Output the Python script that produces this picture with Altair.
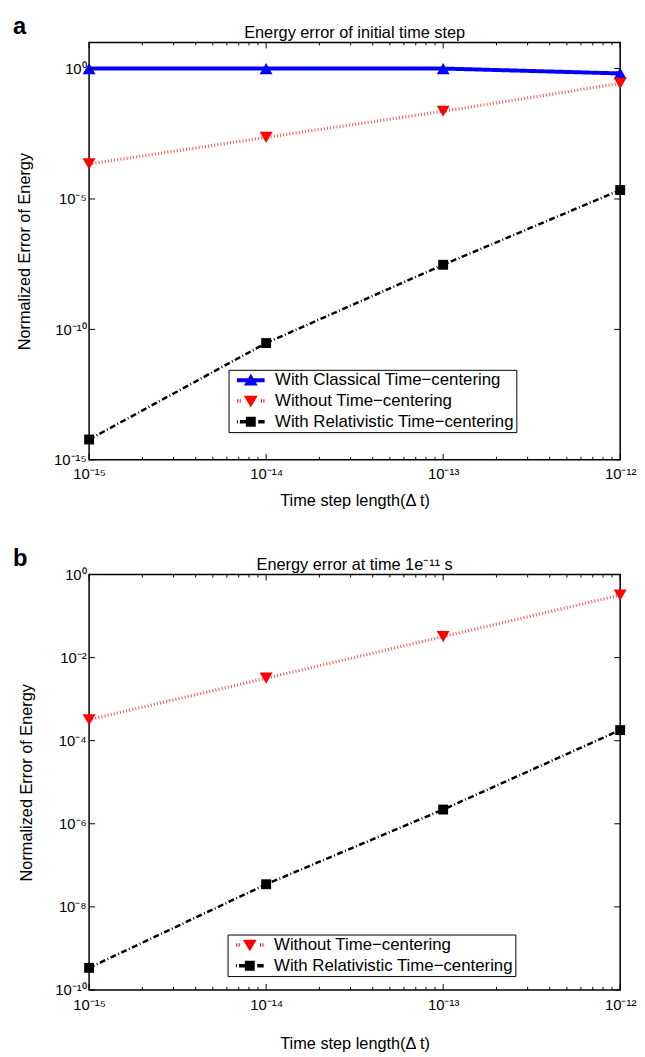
import math
import altair as alt
import pandas as pd

FONT = "Liberation Sans"

# ---------------- data ----------------
dt = [1e-15, 1e-14, 1e-13, 1e-12]

S_CLASSIC = "With Classical Time−centering"
S_WITHOUT = "Without Time−centering"
S_REL = "With Relativistic Time−centering"
ALL_SERIES = [S_CLASSIC, S_WITHOUT, S_REL]

a_classic = [1.0, 1.0, 1.0, 0.65]
a_without = [2.2e-4, 2.3e-3, 2.3e-2, 0.27]
a_rel = [6e-15, 3e-11, 3e-8, 2.2e-5]

b_without = [3.2e-4, 3.2e-3, 3.2e-2, 0.32]
b_rel = [3.4e-10, 3.5e-8, 2.2e-6, 1.8e-4]

x_major = [1e-15, 1e-14, 1e-13, 1e-12]
x_major_labels = ["10⁻¹⁵", "10⁻¹⁴", "10⁻¹³", "10⁻¹²"]
x_minor = [m * 10.0 ** e for e in (-15, -14, -13) for m in range(2, 10)]

a_y_ticks = [1e0, 1e-5, 1e-10, 1e-15]
a_y_labels = ["10⁰", "10⁻⁵", "10⁻¹⁰", "10⁻¹⁵"]
b_y_ticks = [1e0, 1e-2, 1e-4, 1e-6, 1e-8, 1e-10]
b_y_labels = ["10⁰", "10⁻²", "10⁻⁴", "10⁻⁶", "10⁻⁸", "10⁻¹⁰"]

# ---------------- styles ----------------
STYLE = {
    S_CLASSIC: dict(marker="triangle-up", fill="#0000ff", line="#0000ff", width=4.0, dash=[1, 0], size=170,
                    legend_path="M-2.8,-0.4L2.8,-0.4L2.8,0.4L-2.8,0.4Z M0,-1.3L1.4,1.05L-1.4,1.05Z"),
    S_WITHOUT: dict(marker="triangle-down", fill="#ff0000", line="#ff5555", width=2.5, dash=[1, 2.2], size=170,
                    legend_path=("M-2.75,-0.35L-2.55,-0.35L-2.55,0.35L-2.75,0.35Z "
                                 "M-2.25,-0.35L-2.05,-0.35L-2.05,0.35L-2.25,0.35Z "
                                 "M2.05,-0.35L2.25,-0.35L2.25,0.35L2.05,0.35Z "
                                 "M2.55,-0.35L2.75,-0.35L2.75,0.35L2.55,0.35Z "
                                 "M-1.4,-1.05L1.4,-1.05L0,1.3Z")),
    S_REL: dict(marker="square", fill="#000000", line="#000000", width=3.5, dash=[6, 2.5, 1, 2.5], size=100,
                legend_path=("M-2.8,-0.3L-2.6,-0.3L-2.6,0.3L-2.8,0.3Z "
                             "M-2.2,-0.35L-0.9,-0.35L-0.9,0.35L-2.2,0.35Z "
                             "M-1,-1L1,-1L1,1L-1,1Z "
                             "M1.5,-0.35L2.8,-0.35L2.8,0.35L1.5,0.35Z")),
}


def label_expr(values, labels):
    expr = "''"
    for v, lab in reversed(list(zip(values, labels))):
        e = int(round(math.log10(v)))
        expr = f"round(log(datum.value)/LN10) == {e} ? '{lab}' : ({expr})"
    return expr


def make_legend(lx, ly, values):
    return alt.Legend(title=None, orient="none", legendX=lx, legendY=ly, values=values,
                      strokeColor="black", fillColor="white", padding=2, rowPadding=3,
                      symbolSize=100, symbolOffset=12, labelOffset=16, symbolStrokeWidth=0,
                      labelFontSize=17, labelFont=FONT, labelColor="black", labelLimit=400,
                      symbolOpacity=1)


def scale_of(key):
    return alt.Scale(domain=ALL_SERIES, range=[STYLE[s][key] for s in ALL_SERIES])


def panel(series_names, series_vals, y_domain, y_ticks, y_labels, title, letter,
          W, H, leg, x_label_pad, x_title_pad):
    rows = [dict(dt=d, err=v, series=s)
            for s, vals in zip(series_names, series_vals)
            for d, v in zip(dt, vals)]
    df = pd.DataFrame(rows)

    xscale = alt.Scale(type="log", domain=[1e-15, 1e-12], nice=False)
    yscale = alt.Scale(type="log", domain=y_domain, nice=False)

    x_axis = alt.Axis(values=x_major, labelExpr=label_expr(x_major, x_major_labels),
                      title="Time step length(Δ t)", grid=False, ticks=False, domain=False,
                      labelFlush=False, labelOverlap=False, labelFontSize=15, labelPadding=x_label_pad,
                      labelColor="black", titleColor="black", titleFontSize=16.5,
                      titleFontWeight="normal", titlePadding=x_title_pad)
    y_axis = alt.Axis(values=y_ticks, labelExpr=label_expr(y_ticks, y_labels),
                      title="Normalized Error of Energy", grid=False, ticks=False, domain=False,
                      labelFlush=False, labelOverlap=False, labelFontSize=15, labelPadding=3,
                      labelColor="black", titleColor="black", titleFontSize=16.5,
                      titleFontWeight="normal", titlePadding=21)

    def X(field="dt"):
        return alt.X(f"{field}:Q", scale=xscale, axis=x_axis)

    def Y(field="err"):
        return alt.Y(f"{field}:Q", scale=yscale, axis=y_axis)

    lines = alt.Chart(df).mark_line().encode(
        x=X(), y=Y(),
        stroke=alt.Stroke("series:N", scale=scale_of("line"), legend=None),
        strokeDash=alt.StrokeDash("series:N", scale=scale_of("dash"), legend=None),
        strokeWidth=alt.StrokeWidth("series:N", scale=scale_of("width"), legend=None),
    )

    # tiny legend-source layer, hidden under the real markers
    ghost = alt.Chart(df).mark_point(filled=True, size=1).encode(
        x=X(), y=Y(),
        color=alt.Color("series:N", scale=scale_of("fill"), legend=leg),
        shape=alt.Shape("series:N", scale=scale_of("legend_path"), legend=leg),
    )

    pts = []
    for s in series_names:
        st = STYLE[s]
        pts.append(
            alt.Chart(df).mark_point(filled=True, shape=st["marker"], size=st["size"], opacity=1,
                                     color=st["fill"])
            .encode(x=X(), y=Y())
            .transform_filter(alt.datum.series == s)
        )

    ticks = []
    for vals, ln in ((x_major, 6), (x_minor, 3)):
        d = pd.DataFrame({"v": vals})
        ticks.append(alt.Chart(d).mark_rule(color="black", strokeWidth=1)
                     .encode(x=X("v"), y=alt.value(H), y2=alt.value(H - ln)))
        ticks.append(alt.Chart(d).mark_rule(color="black", strokeWidth=1)
                     .encode(x=X("v"), y=alt.value(0), y2=alt.value(ln)))
    dy = pd.DataFrame({"v": y_ticks})
    ticks.append(alt.Chart(dy).mark_rule(color="black", strokeWidth=1)
                 .encode(y=Y("v"), x=alt.value(0), x2=alt.value(6)))
    ticks.append(alt.Chart(dy).mark_rule(color="black", strokeWidth=1)
                 .encode(y=Y("v"), x=alt.value(W), x2=alt.value(W - 6)))

    title_txt = alt.Chart(pd.DataFrame({"t": [title]})).mark_text(
        fontSize=16.5, font=FONT, align="center", baseline="middle", color="black"
    ).encode(x=alt.value(W / 2), y=alt.value(-10), text="t:N")
    letter_txt = alt.Chart(pd.DataFrame({"t": [letter]})).mark_text(
        fontSize=24, font=FONT, fontWeight="bold", align="left", baseline="middle", color="black"
    ).encode(x=alt.value(-77), y=alt.value(-16), text="t:N")

    return alt.layer(lines, ghost, *pts, *ticks, title_txt, letter_txt).properties(width=W, height=H)


top = panel([S_CLASSIC, S_WITHOUT, S_REL], [a_classic, a_without, a_rel],
            [1e-15, 1e1], a_y_ticks, a_y_labels,
            "Energy error of initial time step", "a", 537, 422,
            make_legend(141, 331, [S_CLASSIC, S_WITHOUT, S_REL]), 7, 11)
bottom = panel([S_WITHOUT, S_REL], [b_without, b_rel],
               [1e-10, 1e0], b_y_ticks, b_y_labels,
               "Energy error at time 1e⁻¹¹ s", "b", 537, 420,
               make_legend(140, 364, [S_WITHOUT, S_REL]), 8, 23)

chart = alt.vconcat(top, bottom, spacing=36).resolve_legend(
    color="independent", shape="independent"
).properties(
    padding={"left": 4, "top": 0, "right": 0, "bottom": 0}
).configure(font=FONT).configure_view(stroke="black", strokeWidth=1.5)

chart.save("out.html", embed_options={"renderer": "svg", "actions": False})
